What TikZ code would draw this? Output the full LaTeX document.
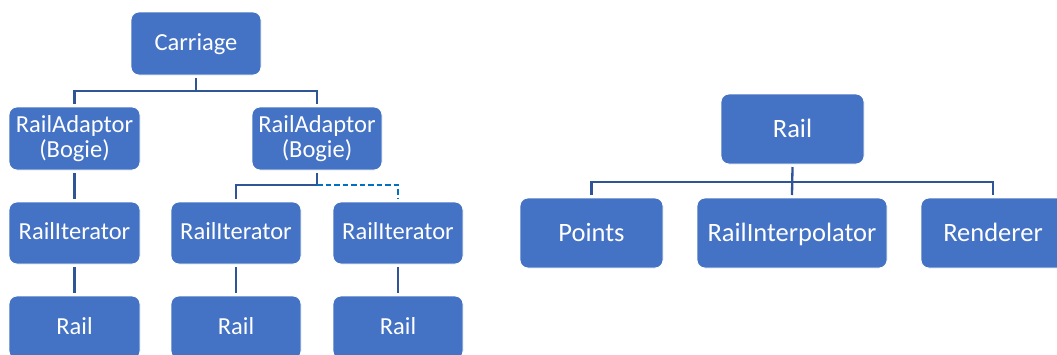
\documentclass[tikz,border=0pt]{standalone}
\usepackage{fontspec}
\setmainfont{Carlito}
\definecolor{boxblue}{HTML}{4472C4}
\definecolor{linkblue}{HTML}{2F5597}
\definecolor{dashblue}{HTML}{0070C0}
\begin{document}
\begin{tikzpicture}[x=1pt,y=-1pt,
  box/.style={rectangle, rounded corners=8pt, fill=boxblue, draw=white, line width=0.8pt,
    text=white, inner sep=0pt, outer sep=3pt, align=center, font=\fontsize{24.5}{25}\selectfont},
  onebox/.style={box, text height=14.5pt, text depth=1pt},
  bigbox/.style={box, text height=18pt, text depth=1pt, font=\fontsize{26.5}{27.5}\selectfont},
  link/.style={draw=linkblue, line width=2.3pt},
  dlink/.style={draw=dashblue, line width=2.3pt, dash pattern=on 5.5pt off 3pt}]
\useasboundingbox (0,0) rectangle (1057,354);
\clip (0,0) rectangle (1057,354);
% left tree
\node[onebox, minimum width=130pt, minimum height=63pt] (carriage) at (196,43.5) {Carriage};
\node[box, minimum width=131pt, minimum height=63pt] (adL) at (74.5,138.5) {RailAdaptor\\(Bogie)};
\node[box, minimum width=130pt, minimum height=63pt] (adR) at (317,138.5) {RailAdaptor\\(Bogie)};
\node[onebox, minimum width=131pt, minimum height=62pt] (itL) at (74.5,233) {RailIterator};
\node[onebox, minimum width=130pt, minimum height=62pt] (itM) at (236,233) {RailIterator};
\node[onebox, minimum width=130pt, minimum height=62pt] (itR) at (398,233) {RailIterator};
\node[onebox, minimum width=131pt, minimum height=63pt] (railL) at (74.5,327.5) {Rail};
\node[onebox, minimum width=130pt, minimum height=63pt] (railM) at (236,327.5) {Rail};
\node[onebox, minimum width=130pt, minimum height=63pt] (railR) at (398,327.5) {Rail};
\coordinate (j1) at (196,91);
\coordinate (j2) at (317,185);
\draw[link] (carriage.south) -- (j1);
\draw[link] (adL.north) |- (j1) -| (adR.north);
\draw[link] (adL.south) -- (itL.north);
\draw[link] (adR.south) -- (j2);
\draw[link] (itM.north) |- (j2);
\draw[dlink] (j2) -| (itR.north);
\draw[link] (itL.south) -- (railL.north);
\draw[link] (itM.south) -- (railM.north);
\draw[link] (itR.south) -- (railR.north);
% right tree
\node[bigbox, minimum width=143pt, minimum height=70pt] (rail2) at (792.5,129) {Rail};
\node[bigbox, minimum width=143pt, minimum height=70pt] (points) at (591.5,233) {Points};
\node[bigbox, minimum width=190pt, minimum height=70pt] (interp) at (792,233) {RailInterpolator};
\node[bigbox, minimum width=144pt, minimum height=70pt] (renderer) at (993,233) {Renderer};
\coordinate (j3) at (792,182);
\draw[link] (rail2.south) -- (interp.north);
\draw[link] (points.north) |- (j3) -| (renderer.north);
\end{tikzpicture}
\end{document}
